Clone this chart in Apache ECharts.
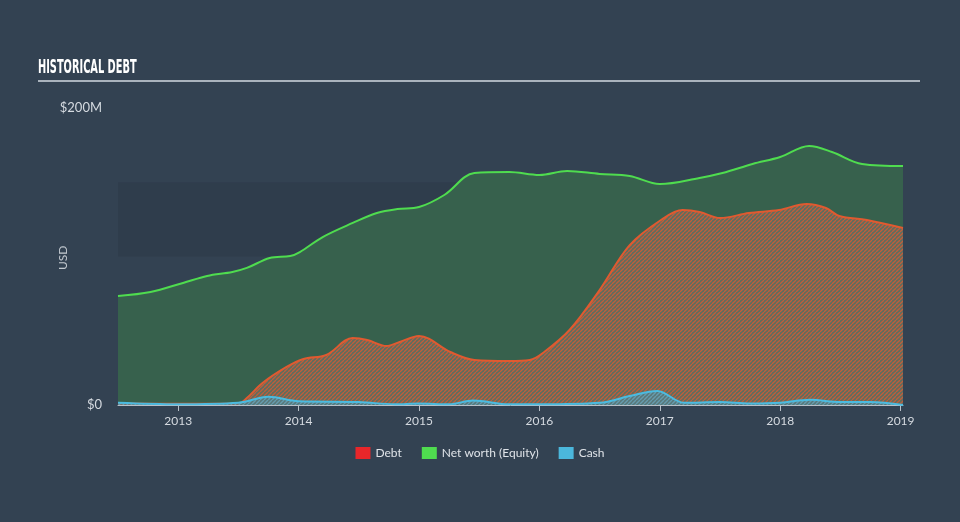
<!DOCTYPE html>
<html>
<head>
<meta charset="utf-8">
<script src="https://cdn.jsdelivr.net/npm/echarts@6/dist/echarts.min.js"></script>
<style>
html,body{margin:0;padding:0;background:#334252;}
#c{width:960px;height:522px;}
</style>
</head>
<body>
<div id="c"></div>
<script>
// Data (x = decimal year, values in $M)
const netWorthX = [2012.5,2012.77,2013.04,2013.24,2013.45,2013.57,2013.76,2013.93,2014.01,2014.2,2014.45,2014.65,2014.82,2015.0,2015.21,2015.46,2015.75,2016.0,2016.23,2016.5,2016.75,2017.0,2017.33,2017.52,2017.77,2018.0,2018.24,2018.43,2018.68,2019.02];
const netWorthY = [73.4,76.1,82.2,86.9,89.6,92.3,99.0,100.3,103.0,113.1,122.6,129.3,132.0,133.3,141.4,156.2,156.9,154.9,157.6,155.6,154.2,148.8,152.9,156.2,162.3,167.0,174.4,170.4,162.3,160.9];
const debtX = [2012.5,2013.0,2013.5,2013.57,2013.7,2013.9,2014.04,2014.23,2014.45,2014.57,2014.73,2014.84,2015.0,2015.26,2015.46,2015.75,2015.92,2016.04,2016.25,2016.5,2016.75,2017.01,2017.19,2017.33,2017.5,2017.74,2017.99,2018.22,2018.38,2018.49,2018.72,2019.02];
const debtY = [1.0,0.8,1.0,4.7,14.8,25.6,31.0,33.7,45.1,43.8,39.7,42.4,46.5,35.7,30.3,29.6,30.3,35.7,50.5,77.4,107.7,124.6,131.3,130.0,125.9,129.3,131.3,135.4,132.7,127.3,124.6,119.2];
const cashX = [2012.5,2013.0,2013.5,2013.75,2014.0,2014.5,2014.8,2015.0,2015.25,2015.45,2015.75,2016.0,2016.5,2016.75,2016.98,2017.2,2017.5,2017.75,2018.0,2018.25,2018.5,2018.75,2019.02];
const cashY = [1.5,0.5,1.5,5.5,2.5,2.0,0.5,1.0,0.5,3.0,0.5,0.5,1.5,6.0,9.5,1.5,2.0,1.0,1.5,3.5,2.0,2.0,0.0];
const yearTicks = [2013,2014,2015,2016,2017,2018,2019];
const seriesNames = ['Debt','Net worth (Equity)','Cash'];
const bandRange = [100,150];

function pair(xs, ys){ return xs.map((x,i)=>[x, ys[i]]); }

function hatch(bg, fg, size, lw){
  const c = document.createElement('canvas');
  c.width = size; c.height = size;
  const g = c.getContext('2d');
  g.fillStyle = bg; g.fillRect(0,0,size,size);
  g.strokeStyle = fg; g.lineWidth = lw;
  for (let k=-size;k<=2*size;k+=size){
    g.beginPath(); g.moveTo(k, size); g.lineTo(k+size, 0); g.stroke();
  }
  return c;
}

const chart = echarts.init(document.getElementById('c'));
chart.setOption({
  backgroundColor: '#334252',
  animation: false,
  grid: {left:118, right:57, top:108, bottom:117},
  legend: {
    bottom: 58, left: 'center',
    itemWidth: 15, itemHeight: 12, itemGap: 20,
    icon: 'rect',
    textStyle: {color:'#dfe3e8', fontSize: 12, fontFamily: 'Lato'},
    data: seriesNames
  },
  graphic: [
    {type:'text', x: 38, y: 58, scaleX: 0.545, style:{text:'HISTORICAL DEBT', fill:'#ffffff', font:'bold 20px "DejaVu Sans Condensed", "DejaVu Sans"'}},
    {type:'rect', left: 38, top: 80, shape:{width: 882, height: 2}, style:{fill:'#aab3bd'}},
    {type:'text', x: 57, y: 270, rotation: Math.PI/2, style:{text:'USD', fill:'#c3c9d0', font:'12px Lato'}}
  ],
  xAxis: {
    type:'value', min:2012.5, max:2019.02,
    axisLine:{show:true, lineStyle:{color:'#b8c0c8', width:1}},
    axisTick:{show:true, customValues: yearTicks, length:6, lineStyle:{color:'#b8c0c8'}},
    axisLabel:{customValues: yearTicks, color:'#d5dae0', fontSize:12, fontFamily:'Lato', margin:10, formatter: v => String(Math.round(v))},
    splitLine:{show:false}
  },
  yAxis: {
    type:'value', min:0, max:200, interval:50,
    axisLine:{show:false}, axisTick:{show:false},
    axisLabel:{color:'#d5dae0', fontSize:13, fontFamily:'Lato', margin:16,
      formatter: v => v===0 ? '$0' : (v===200 ? '$200M' : '')},
    splitLine:{show:false}
  },
  series: [
    {
      name:'band', type:'line', data:[], z:1, silent:true,
      markArea:{silent:true, itemStyle:{color:'rgba(25,35,50,0.15)'}, data:[[{yAxis:bandRange[0], xAxis:2012.5},{yAxis:bandRange[1], xAxis:2019.02}]]}
    },
    {
      name:'Net worth (Equity)', type:'line', smooth:0.35, symbol:'none', z:2,
      data: pair(netWorthX, netWorthY),
      lineStyle:{color:'#4fdc4f', width:2},
      itemStyle:{color:'#4fdc4f'},
      areaStyle:{color:'#37614d', opacity:1, origin:'start'}
    },
    {
      name:'Debt', type:'line', smooth:0.35, symbol:'none', z:3,
      data: pair(debtX, debtY),
      lineStyle:{color:'#e05a30', width:2},
      itemStyle:{color:'#e8262a'},
      areaStyle:{color:{image: hatch('rgba(92,110,95,1)', 'rgba(190,94,60,1)', 4, 1.3), repeat:'repeat'}, opacity:1}
    },
    {
      name:'Cash', type:'line', smooth:0.35, symbol:'none', z:4,
      data: pair(cashX, cashY),
      lineStyle:{color:'#4bbbe0', width:2},
      itemStyle:{color:'#4bb7dc'},
      areaStyle:{color:{image: hatch('rgba(80,130,150,0.5)', 'rgba(75,187,224,0.6)', 4, 1.4), repeat:'repeat'}, opacity:1}
    }
  ]
});
</script>
</body>
</html>
